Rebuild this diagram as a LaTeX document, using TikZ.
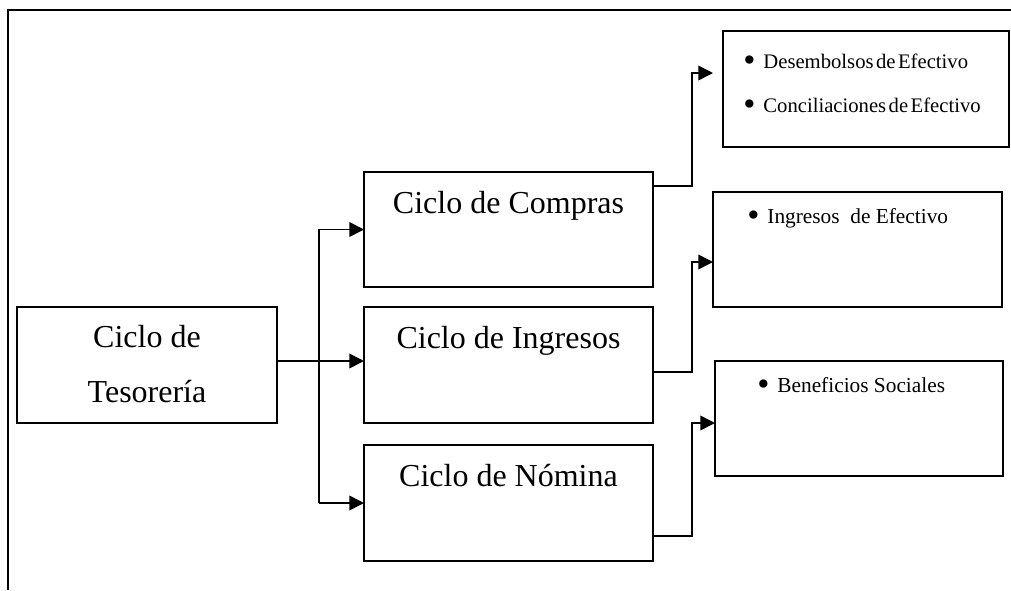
\documentclass[tikz,border=0pt]{standalone}
\usepackage{fontspec}
\setmainfont{Liberation Serif}
\usetikzlibrary{arrows.meta,calc}

% narrow word spaces for the cash list
\newcommand{\narrowspaces}{\spaceskip 0.12em\relax}
% heavier list bullet followed by its gap
\newcommand{\bigbullet}{\raisebox{-2.5pt}{\fontsize{26}{26}\selectfont\textbullet}\hspace{6pt}}

\tikzset{
  box/.style={draw, line width=1.2pt, rectangle, inner sep=0pt, outer sep=0pt, anchor=north west},
  big/.style={inner sep=0pt, anchor=base, font=\fontsize{24}{28}\selectfont},
  item/.style={inner sep=0pt, anchor=base west, font=\fontsize{16}{19}\selectfont},
  itemtight/.style={inner sep=0pt, anchor=base west, font={\fontsize{15.5}{18}\selectfont\narrowspaces}},
  arr/.style={line width=1.2pt, -{Triangle[length=11pt,width=11pt]}},
  frame/.style={line width=2pt}
}

\begin{document}
\begin{tikzpicture}[x=0.75pt,y=-0.75pt]
\useasboundingbox (0,0) rectangle (1011,590);

% page frame (top and left edges)
\draw[frame] (1011,10) -- (8,10) -- (8,590);

% cycle boxes
\node[box, minimum width={260*0.75pt}, minimum height={116*0.75pt}] (tes) at (17,307) {};
\node[box, minimum width={289*0.75pt}, minimum height={115*0.75pt}] (com) at (364,172) {};
\node[box, minimum width={289*0.75pt}, minimum height={116*0.75pt}] (ing) at (364,307) {};
\node[box, minimum width={289*0.75pt}, minimum height={116*0.75pt}] (nom) at (364,445) {};

% detail boxes
\node[box, minimum width={286*0.75pt}, minimum height={116*0.75pt}] (des) at (723,31) {};
\node[box, minimum width={289*0.75pt}, minimum height={115*0.75pt}] (ine) at (713,192) {};
\node[box, minimum width={288*0.75pt}, minimum height={115*0.75pt}] (ben) at (715,361) {};

% cycle titles
\node[big] (tesA) at ($(tes.north)+(0,40)$) {Ciclo de};
\node[big] (tesB) at ($(tes.north)+(0,95)$) {Tesorería};
\node[big] (comT) at ($(com.north)+(0,41)$) {Ciclo de Compras};
\node[big] (ingT) at ($(ing.north)+(0,41)$) {Ciclo de Ingresos};
\node[big] (nomT) at ($(nom.north)+(0,41)$) {Ciclo de Nómina};

% bullet items
\node[itemtight] (desA) at ($(des.north west)+(20,37)$) {\bigbullet Desembolsos de Efectivo};
\node[itemtight] (desB) at ($(des.north west)+(20,81)$) {\bigbullet Conciliaciones de Efectivo};
\node[item] (ineA) at ($(ine.north west)+(34,31)$) {\bigbullet Ingresos\ \ de Efectivo};
\node[item] (benA) at ($(ben.north west)+(42,31)$) {\bigbullet Beneficios Sociales};

% treasury cycle to the three cycles
\coordinate (tk) at (319,361);
\draw[arr] ([yshift=3pt]tes.east) -- ([yshift=3pt]tes.east -| ing.west);
\draw[arr] (tk |- nom.west) -- (tk |- com.west) -- (com.west);
\draw[arr] (tk |- nom.west) -- (nom.west);

% cycles to their details
\draw[arr] ($(com.north east)+(0,14)$) -| ($(des.north west)+(-31,42)$) -- ($(des.north west)+(-10,42)$);
\draw[arr] ($(ing.north east)+(0,65)$) -| ($(ine.north west)+(-21,70)$) -- ($(ine.north west)+(0,70)$);
\draw[arr] ($(nom.north east)+(0,91)$) -| ($(ben.north west)+(-23,62)$) -- ($(ben.north west)+(0,62)$);
\end{tikzpicture}
\end{document}
